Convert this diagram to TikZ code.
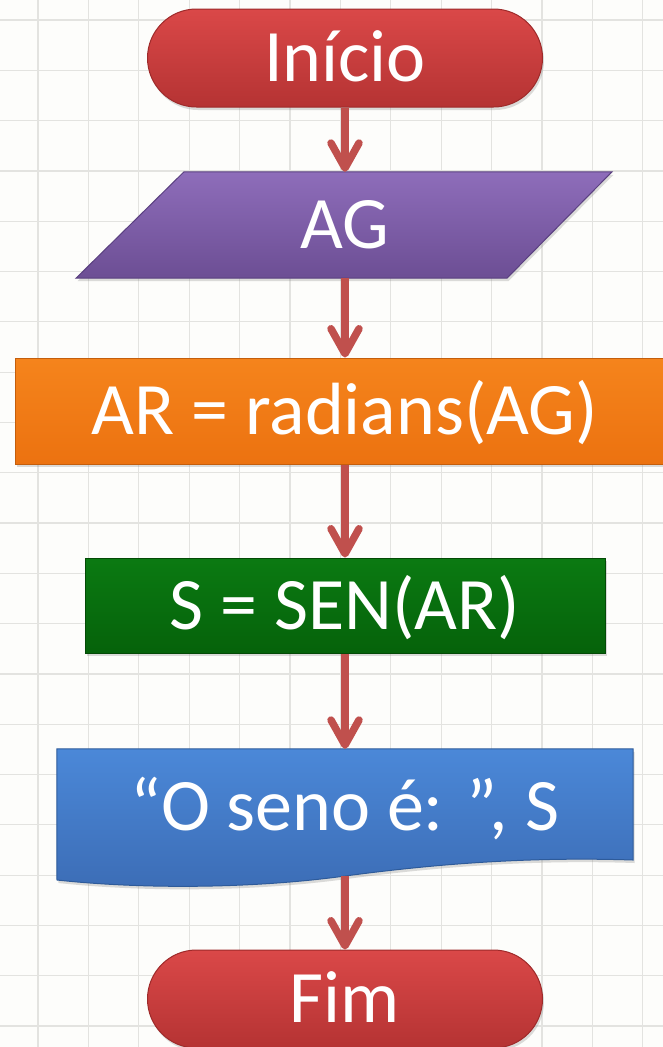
\documentclass[tikz,border=0pt]{standalone}
\usepackage{fontspec}
\setmainfont{Carlito}
\usetikzlibrary{arrows.meta,shadows}
\definecolor{bgc}{HTML}{FDFDFB}
\definecolor{gridc}{HTML}{E3E3E0}
\definecolor{arrowc}{HTML}{C0504D}
\definecolor{redT}{HTML}{DA4848}
\definecolor{redB}{HTML}{B53333}
\definecolor{redD}{HTML}{9E2A2A}
\definecolor{purT}{HTML}{8E6DBA}
\definecolor{purB}{HTML}{6C4E94}
\definecolor{purD}{HTML}{5A4080}
\definecolor{oraT}{HTML}{F5841C}
\definecolor{oraB}{HTML}{EC7210}
\definecolor{oraD}{HTML}{C45E0C}
\definecolor{greT}{HTML}{0B7A12}
\definecolor{greB}{HTML}{05620A}
\definecolor{greD}{HTML}{034A06}
\definecolor{bluT}{HTML}{4B88D8}
\definecolor{bluB}{HTML}{3C6DB6}
\definecolor{bluD}{HTML}{2E5B9A}
\pgfdeclarelayer{gridlayer}
\pgfdeclarelayer{shapelayer}
\pgfsetlayers{gridlayer,shapelayer,main}
\tikzset{
  txt/.style={font=\fontsize{74}{80}\selectfont, text=white, text height=47.6pt, text depth=0pt, inner sep=0pt, align=center},
  shadowed/.style={drop shadow={shadow xshift=1.5pt, shadow yshift=-3pt, opacity=0.28}},
  term/.style={txt, shadowed, rounded corners=49pt, minimum width=395pt, minimum height=98pt, top color=redT, bottom color=redB, draw=redD, line width=1pt},
  procbox/.style={txt, shadowed, line width=1pt},
  flow/.style={draw=arrowc, line width=7.5pt, -{Straight Barb[length=25pt, width=28pt, round]}},
}
\begin{document}
\begin{tikzpicture}[x=1pt,y=-1pt]
\useasboundingbox (0,0) rectangle (663,1047);
\begin{pgfonlayer}{gridlayer}
  \fill[bgc] (0,0) rectangle (663,1047);
  \foreach \x in {38,88.4,...,663} \draw[gridc, line width=1.2pt] (\x,0) -- (\x,1047);
  \foreach \y in {20,70.3,...,1047} \draw[gridc, line width=1.2pt] (0,\y) -- (663,\y);
\end{pgfonlayer}

\node[term] (start) at (345,58) {Início};
\node[txt, minimum width=300pt, minimum height=106pt] (ag) at (345,225) {AG};
\node[procbox, minimum width=660pt, minimum height=106pt, top color=oraT, bottom color=oraB, draw=oraD] (ar) at (345,411) {AR = radians(AG)};
\node[procbox, minimum width=520pt, minimum height=95pt, top color=greT, bottom color=greB, draw=greD] (sen) at (345,605.5) {S = SEN(AR)};
\node[txt, minimum width=576pt, minimum height=116pt] (out) at (345,807) {“O seno é: ”, S};
\coordinate (docb) at (345,876);
\node[term] (fim) at (345,999) {Fim};

\begin{pgfonlayer}{shapelayer}
  \path[shadowed, top color=purT, bottom color=purB, draw=purD, line width=1pt]
    ([xshift=-161pt]ag.north) -- ([xshift=267pt]ag.north) -- ([xshift=162pt]ag.south) -- ([xshift=-269pt]ag.south) -- cycle;
  \path[shadowed, top color=bluT, bottom color=bluB, draw=bluD, line width=1pt]
    (out.north west) -- (out.north east) -- (633,860) .. controls (540,857) and (450,862) .. (docb) .. controls (250,889) and (140,889) .. (57,880) -- cycle;
\end{pgfonlayer}

\draw[flow] (start.south) -- (ag.north);
\draw[flow] (ag.south) -- (ar.north);
\draw[flow] (ar.south) -- (sen.north);
\draw[flow] (sen.south) -- (out.north);
\draw[flow] (docb) -- (fim.north);
\end{tikzpicture}
\end{document}
